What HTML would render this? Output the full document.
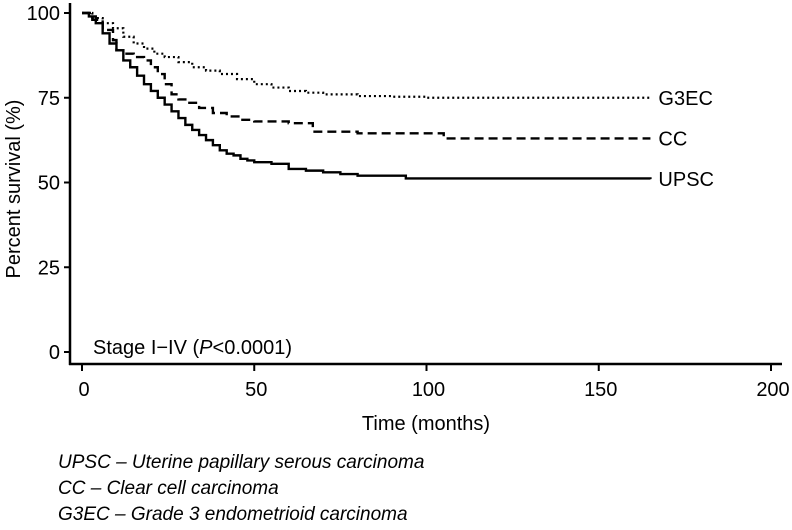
<!DOCTYPE html>
<html><head><meta charset="utf-8">
<style>
body{margin:0;background:#fff;}
svg text{font-family:"Liberation Sans",sans-serif;fill:#000;}
</style></head>
<body>
<svg id="chart" width="792" height="525" xmlns="http://www.w3.org/2000/svg">
<g id="axes"></g>
<g id="series"></g>
<text transform="translate(20,189) rotate(-90)" text-anchor="middle" font-size="20">Percent survival (%)</text>
<text x="426" y="430" text-anchor="middle" font-size="20">Time (months)</text>
<text x="93" y="354" font-size="20">Stage I−IV (<tspan font-style="italic">P</tspan>&lt;0.0001)</text>
<text x="58" y="468" font-size="19" font-style="italic">UPSC – Uterine papillary serous carcinoma</text>
<text x="58" y="494" font-size="19" font-style="italic">CC – Clear cell carcinoma</text>
<text x="58" y="520" font-size="19" font-style="italic">G3EC – Grade 3 endometrioid carcinoma</text>
</svg>
<script>
const xTicks=[0,50,100,150,200];
const yTicks=[0,25,50,75,100];
const seriesNames=["G3EC","CC","UPSC"];
const g3ecT=[0,3,6,9,12,15,18,21,24,28,32,36,40,45,50,55,60,65,70,80,90,100,165];
const g3ecV=[100,98.5,97,95.5,93,91,89.5,88,87,85.5,84,83,82,80.5,79,78,77,76.5,76,75.5,75.3,75,75];
const ccT=[0,3,6,9,10,12,15,18,20,22,24,26,28,30,34,38,42,46,50,60,67,80,105,165];
const ccV=[100,98,95,92,89,88,87,86,84,82,79,76,74.5,73.5,72,70.5,69.5,68.5,68,67.5,65,64.5,63,63];
const upscT=[0,2,4,6,8,10,12,14,16,18,20,22,24,26,28,30,32,34,36,38,40,42,44,46,48,50,55,60,65,70,75,80,94,165];
const upscV=[100,99,97,94,91,89,86,84,81.5,79,77,75,73,71,69,67,65.5,64,62.5,61,59.5,58.5,58,57,56.5,56,55.5,54,53.5,53,52.5,52,51.2,51];
const sx=t=>82+t*3.445;
const sy=v=>352-v*3.39;
const NS="http://www.w3.org/2000/svg";
function mk(tag,attrs,parent){const e=document.createElementNS(NS,tag);for(const k in attrs)e.setAttribute(k,attrs[k]);parent.appendChild(e);return e;}
const axes=document.getElementById('axes');
let yl=mk('line',{x1:70,y1:3,x2:70,y2:365,stroke:'#000','stroke-width':2.5},axes);


let xl=mk('line',{x1:69,y1:364,x2:782,y2:364,stroke:'#000','stroke-width':2.5},axes);


yTicks.forEach(v=>{
  let t=mk('line',{x1:64,y1:sy(v),x2:70,y2:sy(v),stroke:'#000','stroke-width':2},axes);
  
  
  let l=mk('text',{x:60,y:sy(v)+7,'text-anchor':'end','font-size':20},axes);
  l.textContent=v;
  
  
});
xTicks.forEach(v=>{
  let t=mk('line',{x1:sx(v),y1:364,x2:sx(v),y2:371,stroke:'#000','stroke-width':2},axes);
  
  
  let l=mk('text',{x:sx(v)+2,y:396,'text-anchor':'middle','font-size':20},axes);
  l.textContent=v;
  
  
});
const ser=document.getElementById('series');
function stepPath(T,V){let d=`M${sx(T[0])},${sy(V[0])}`;for(let i=1;i<T.length;i++){d+=` L${sx(T[i])},${sy(V[i-1])} L${sx(T[i])},${sy(V[i])}`;}return d;}
const defs=[[g3ecT,g3ecV,'2 3',2.2],[ccT,ccV,'9 5',2.4],[upscT,upscV,'',2.4]];
defs.forEach((s,i)=>{
  let p=mk('path',{d:stepPath(s[0],s[1]),fill:'none',stroke:'#000','stroke-width':s[3],'stroke-dasharray':s[2]},ser);
  
  
  let l=mk('text',{x:sx(s[0][s[0].length-1])+8,y:sy(s[1][s[1].length-1])+7,'font-size':20},ser);
  l.textContent=seriesNames[i];
  
  
});
</script>
</body></html>
